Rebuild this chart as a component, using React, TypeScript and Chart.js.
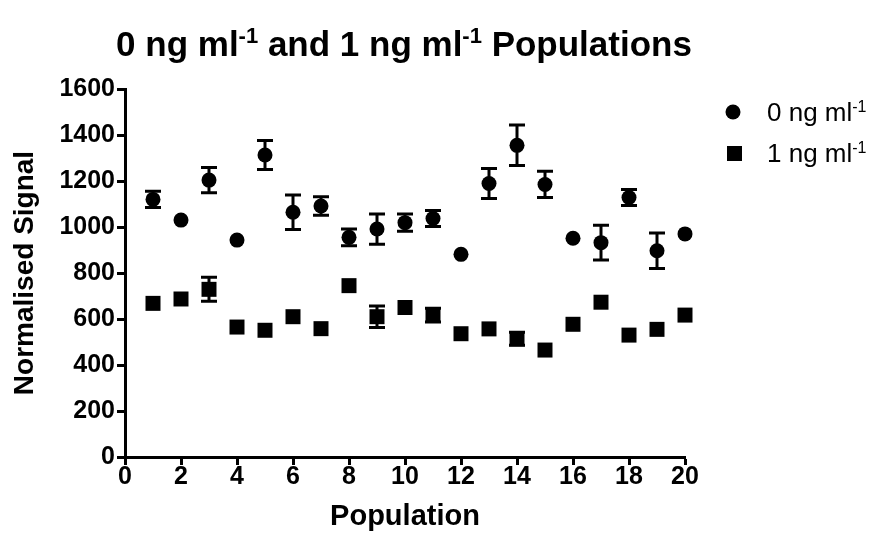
import React, { useEffect, useRef } from 'react';
import { Chart, registerables } from 'chart.js';

Chart.register(...registerables);

// ---------- data ----------
const populations = [1, 2, 3, 4, 5, 6, 7, 8, 9, 10, 11, 12, 13, 14, 15, 16, 17, 18, 19, 20];
const signal0 = [1120, 1030, 1204, 943, 1313, 1064, 1091, 955, 991, 1019, 1037, 881, 1189, 1355, 1185, 951, 932, 1128, 897, 970];
const error0 = [35, 0, 55, 0, 63, 75, 40, 36, 66, 38, 35, 0, 65, 88, 57, 0, 76, 35, 77, 0];
const signal1 = [668, 687, 729, 565, 551, 610, 558, 745, 610, 650, 617, 536, 557, 514, 465, 577, 673, 530, 555, 617];
const error1 = [0, 0, 52, 0, 0, 0, 0, 0, 47, 0, 30, 0, 0, 28, 0, 0, 0, 0, 0, 0];
const seriesNames = ['0 ng ml', '1 ng ml'];
const unitSup = '-1';
const titleParts = [
  { t: '0 ng ml' }, { t: '-1', sup: true }, { t: ' and 1 ng ml' }, { t: '-1', sup: true }, { t: ' Populations' },
];
const xAxisTitle = 'Population';
const yAxisTitle = 'Normalised Signal';
const xRange = [0, 20, 2];
const yRange = [0, 1600, 200];

const FONT = '"Liberation Sans", Arial, Helvetica, sans-serif';

type Part = { t: string; sup?: boolean };

function drawRich(ctx: CanvasRenderingContext2D, parts: Part[], x: number, y: number, size: number, weight: string, align: 'left' | 'center') {
  const supSize = Math.round(size * 0.62);
  let total = 0;
  const widths: number[] = [];
  for (const p of parts) {
    ctx.font = `${weight} ${p.sup ? supSize : size}px ${FONT}`;
    const w = ctx.measureText(p.t).width;
    widths.push(w);
    total += w;
  }
  let cx = align === 'center' ? x - total / 2 : x;
  ctx.textAlign = 'left';
  ctx.textBaseline = 'alphabetic';
  ctx.fillStyle = '#000';
  parts.forEach((p, i) => {
    ctx.font = `${weight} ${p.sup ? supSize : size}px ${FONT}`;
    ctx.fillText(p.t, cx, p.sup ? y - size * 0.36 : y);
    cx += widths[i];
  });
}

const errorBarPlugin = {
  id: 'errorBars',
  beforeDatasetsDraw(chart: any) {
    const ctx = chart.ctx;
    const ys = chart.scales.y;
    ctx.save();
    ctx.strokeStyle = '#000';
    ctx.lineWidth = 3;
    chart.data.datasets.forEach((ds: any, di: number) => {
      const meta = chart.getDatasetMeta(di);
      ds.errors.forEach((e: number, i: number) => {
        if (!e) return;
        const pt = meta.data[i];
        const v = ds.data[i].y;
        const top = ys.getPixelForValue(v + e);
        const bot = ys.getPixelForValue(v - e);
        const cap = 8;
        ctx.beginPath();
        ctx.moveTo(pt.x, top);
        ctx.lineTo(pt.x, bot);
        ctx.moveTo(pt.x - cap, top);
        ctx.lineTo(pt.x + cap, top);
        ctx.moveTo(pt.x - cap, bot);
        ctx.lineTo(pt.x + cap, bot);
        ctx.stroke();
      });
    });
    ctx.restore();
  },
};

const textPlugin = {
  id: 'richText',
  afterDraw(chart: any) {
    const ctx = chart.ctx;
    ctx.save();
    drawRich(ctx, titleParts, 404, 56, 35, 'bold', 'center');
    // legend
    ctx.fillStyle = '#000';
    ctx.beginPath();
    ctx.arc(733, 112, 7.5, 0, Math.PI * 2);
    ctx.fill();
    ctx.fillRect(727, 146, 15, 15);
    drawRich(ctx, [{ t: seriesNames[0] }, { t: unitSup, sup: true }], 767, 121, 26, 'normal', 'left');
    drawRich(ctx, [{ t: seriesNames[1] }, { t: unitSup, sup: true }], 767, 162, 26, 'normal', 'left');
    ctx.restore();
  },
};

export default function App() {
  const ref = useRef<HTMLCanvasElement | null>(null);
  useEffect(() => {
    if (!ref.current) return;
    const chart = new Chart(ref.current, {
      type: 'scatter',
      data: {
        datasets: [
          {
            label: seriesNames[0],
            data: populations.map((x, i) => ({ x, y: signal0[i] })),
            errors: error0,
            pointStyle: 'circle',
            pointRadius: 7.5,
            backgroundColor: '#000',
            borderWidth: 0,
            clip: false,
          } as any,
          {
            label: seriesNames[1],
            data: populations.map((x, i) => ({ x, y: signal1[i] })),
            errors: error1,
            pointStyle: 'rect',
            pointRadius: 10.6,
            backgroundColor: '#000',
            borderWidth: 0,
            clip: false,
          } as any,
        ],
      },
      options: {
        animation: false,
        responsive: false,
        maintainAspectRatio: false,
        devicePixelRatio: 1,
        layout: { padding: { top: 89, right: 193, left: 0, bottom: 0 } },
        plugins: { legend: { display: false }, title: { display: false }, tooltip: { enabled: false } },
        scales: {
          x: {
            type: 'linear',
            min: xRange[0],
            max: xRange[1],
            afterFit: (s: any) => { s.height = 82; },
            ticks: { stepSize: xRange[2], color: '#000', font: { family: FONT, size: 25, weight: 'bold' }, padding: -3, maxRotation: 0, callback: (v: any) => String(v) },
            grid: { drawOnChartArea: false, drawTicks: true, tickLength: 8, tickWidth: 3, tickColor: '#000' },
            border: { display: true, color: '#000', width: 3 },
            title: { display: true, text: xAxisTitle, color: '#000', font: { family: FONT, size: 29, weight: 'bold' }, padding: { top: 0, bottom: 5 } },
          },
          y: {
            type: 'linear',
            min: yRange[0],
            max: yRange[1],
            afterFit: (s: any) => { s.width = 125; },
            ticks: { stepSize: yRange[2], color: '#000', font: { family: FONT, size: 25, weight: 'bold' }, padding: 2, callback: (v: any) => String(v) },
            grid: { drawOnChartArea: false, drawTicks: true, tickLength: 8, tickWidth: 3, tickColor: '#000' },
            border: { display: true, color: '#000', width: 3 },
            title: { display: true, text: yAxisTitle, color: '#000', font: { family: FONT, size: 28, weight: 'bold' }, padding: { top: 8, bottom: 0 } },
          },
        },
      } as any,
      plugins: [errorBarPlugin, textPlugin],
    });
    return () => chart.destroy();
  }, []);
  return (
    <div style={{ position: 'fixed', left: 0, top: 0, width: 878, height: 539, background: '#fff' }}>
      <canvas ref={ref} width={878} height={539} style={{ display: 'block', width: 878, height: 539 }} />
    </div>
  );
}
